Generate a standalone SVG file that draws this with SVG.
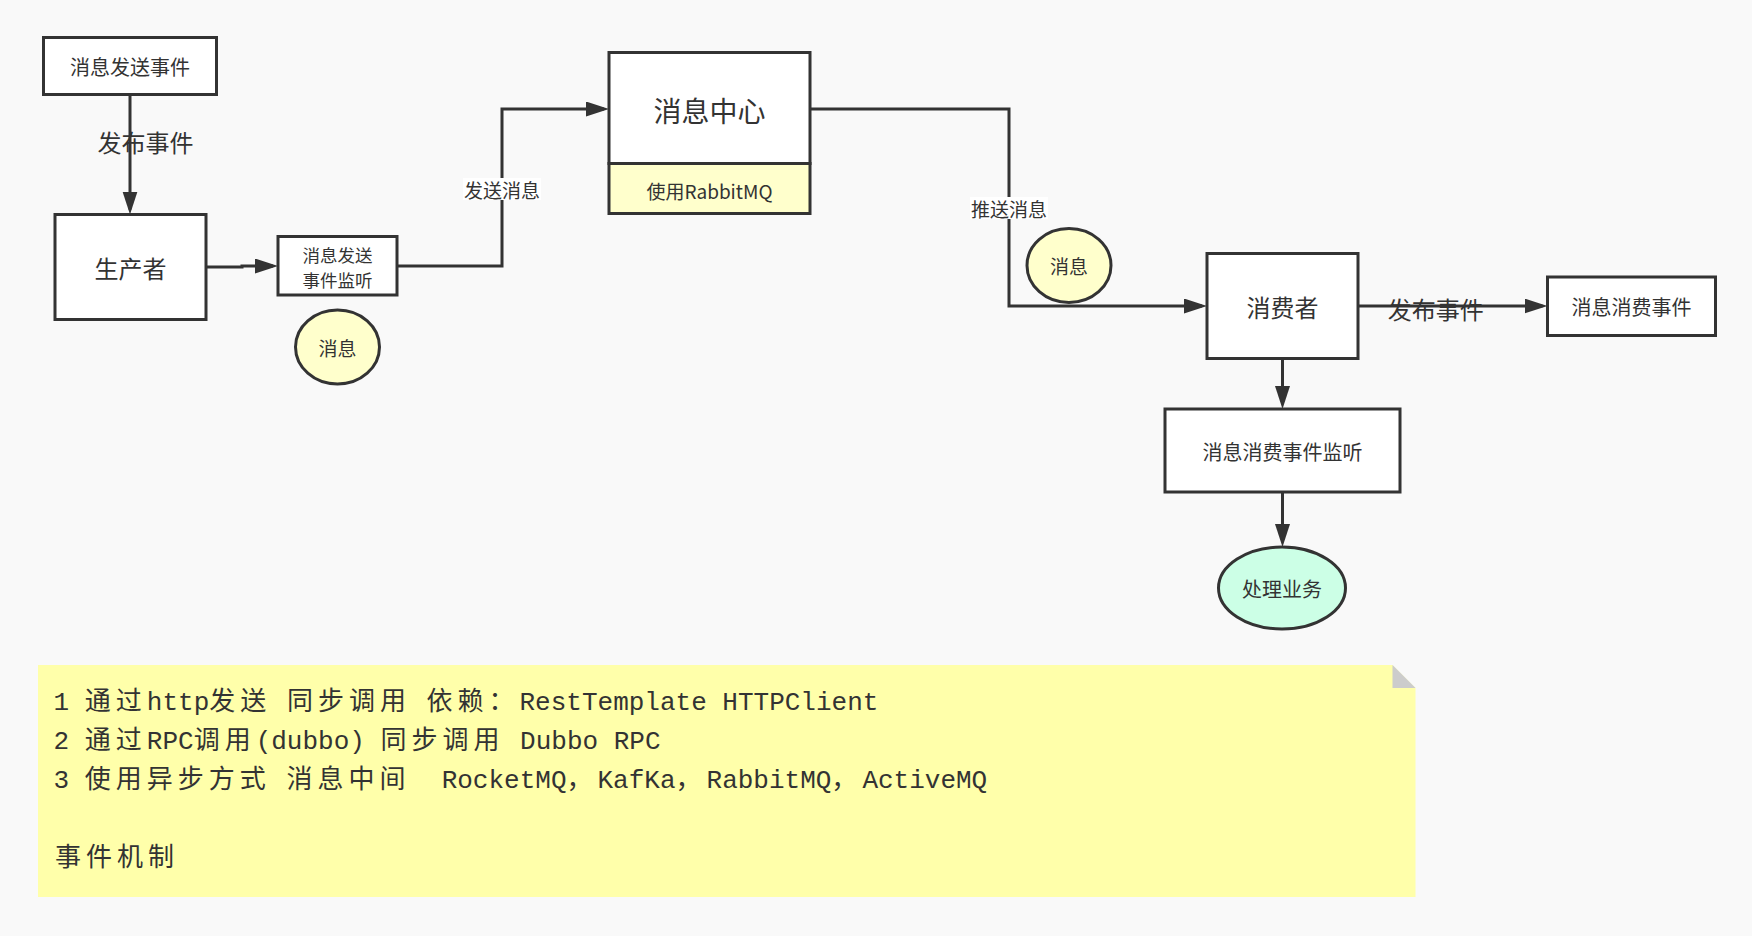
<svg xmlns="http://www.w3.org/2000/svg" width="1752" height="936" viewBox="0 0 1752 936">
<style>
.n rect, .n ellipse, .n polygon {stroke:#333; stroke-width:3}
text {font-family:"Noto Sans CJK SC", sans-serif; fill:#333; text-anchor:middle; dominant-baseline:central}
.c path {fill:none; stroke:#333; stroke-width:3}
.lbl rect {fill:#ffffff; stroke:none}
.note text {font-family:"Liberation Mono", "Noto Sans CJK SC", monospace; font-size:26px; text-anchor:start; dominant-baseline:alphabetic; white-space:pre}
.cj {letter-spacing:5px}
</style>
<defs>
<marker id="ah" markerUnits="userSpaceOnUse" markerWidth="24" markerHeight="16" refX="18" refY="7.5" orient="auto">
<path d="M0,0 L23,7.5 L0,15 z" fill="#333"/>
</marker>
</defs>
<rect x="0" y="0" width="1752" height="936" fill="#f9f9f9"/>

<g id="connectors" class="c">
<path d="M130 94.5 V209.5" marker-end="url(#ah)"/>
<path d="M206 267 H242 V266 H273" marker-end="url(#ah)"/>
<path d="M397 266 H502 V109 H604" marker-end="url(#ah)"/>
<path d="M810 109 H1009 V306 H1202" marker-end="url(#ah)"/>
<path d="M1358 306 H1542.5" marker-end="url(#ah)"/>
<path d="M1282.5 358.5 V404" marker-end="url(#ah)"/>
<path d="M1282.5 492 V542" marker-end="url(#ah)"/>
</g>

<g id="labels" class="lbl">
<text x="145.5" y="141.5" font-size="24">发布事件</text>
<rect x="463" y="178" width="78" height="22"/>
<text x="502" y="189" font-size="19">发送消息</text>
<rect x="970" y="197" width="78" height="22"/>
<text x="1009" y="208" font-size="19">推送消息</text>
<text x="1435.7" y="308" font-size="24">发布事件</text>
</g>

<g id="n-send-event" class="n">
<rect x="43.5" y="37.5" width="173" height="57" fill="#fff"/>
<text x="130" y="66" font-size="20">消息发送事件</text>
</g>
<g id="n-producer" class="n">
<rect x="55" y="214.5" width="151" height="105" fill="#fff"/>
<text x="130.5" y="267" font-size="24">生产者</text>
</g>
<g id="n-send-listener" class="n">
<rect x="278" y="236.5" width="119" height="58.5" fill="#fff"/>
<text x="337.5" y="253.8" font-size="17.5"><tspan x="337.5" y="253.8">消息发送</tspan><tspan x="337.5" y="279.4">事件监听</tspan></text>
</g>
<g id="n-msg1" class="n">
<ellipse cx="337.5" cy="347" rx="42" ry="37" fill="#ffffcc"/>
<text x="337.5" y="347" font-size="19">消息</text>
</g>
<g id="n-center" class="n">
<rect x="609" y="52.5" width="201" height="111" fill="#fff"/>
<rect x="609" y="163.5" width="201" height="50" fill="#ffffcc"/>
<text x="709.5" y="110" font-size="28">消息中心</text>
<text x="709.5" y="190" font-size="19">使用RabbitMQ</text>
</g>
<g id="n-msg2" class="n">
<ellipse cx="1069" cy="265.5" rx="42" ry="37" fill="#ffffcc"/>
<text x="1069" y="265.5" font-size="19">消息</text>
</g>
<g id="n-consumer" class="n">
<rect x="1207" y="253.5" width="151" height="105" fill="#fff"/>
<text x="1282.5" y="306" font-size="24">消费者</text>
</g>
<g id="n-consume-event" class="n">
<rect x="1547.5" y="277" width="168" height="58.5" fill="#fff"/>
<text x="1631.5" y="306" font-size="20">消息消费事件</text>
</g>
<g id="n-consume-listener" class="n">
<rect x="1165" y="409" width="235" height="83" fill="#fff"/>
<text x="1282.5" y="451" font-size="20">消息消费事件监听</text>
</g>
<g id="n-business" class="n">
<ellipse cx="1282" cy="588" rx="63.5" ry="41" fill="#ccffe6"/>
<text x="1282" y="588" font-size="20">处理业务</text>
</g>

<g id="note" class="note">
<polygon points="38,665 1392.5,665 1415.5,688 1415.5,897 38,897" fill="#ffffaa"/>
<polygon points="1392.5,665 1415.5,688 1392.5,688" fill="#cccccc"/>
<text x="53.6" y="710">1 <tspan class="cj">通过</tspan>http<tspan class="cj">发送</tspan> <tspan class="cj">同步调用</tspan> <tspan class="cj">依赖：</tspan>RestTemplate HTTPClient</text>
<text x="53.6" y="749">2 <tspan class="cj">通过</tspan>RPC<tspan class="cj">调用</tspan>(dubbo) <tspan class="cj">同步调用</tspan> Dubbo RPC</text>
<text x="53.6" y="788" xml:space="preserve">3 <tspan class="cj">使用异步方式</tspan> <tspan class="cj">消息中间</tspan>  RocketMQ<tspan class="cj">，</tspan>KafKa<tspan class="cj">，</tspan>RabbitMQ<tspan class="cj">，</tspan>ActiveMQ</text>
<text x="55" y="866"><tspan class="cj">事件机制</tspan></text>
</g>
</svg>
